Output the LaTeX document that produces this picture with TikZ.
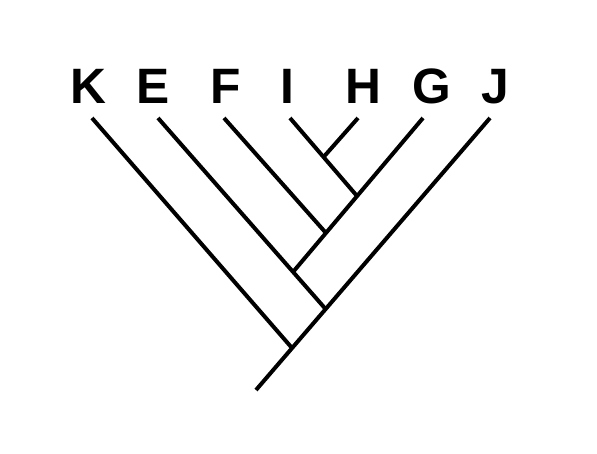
\documentclass[tikz,border=0pt]{standalone}
\usepackage{fontspec}
\setmainfont{Liberation Sans}
\usepackage{tikz}

\begin{document}
\begin{tikzpicture}[x=1pt,y=-1pt,
		branch/.style = {draw=black,line width=4pt},
		taxon/.style = {anchor=base,inner sep=0pt,font=\fontsize{49.7}{50}\selectfont\bfseries}]
		\useasboundingbox (0,0) rectangle (597,453);
		% tips
		\coordinate (tK) at (92,118);
		\coordinate (tE) at (158,118);
		\coordinate (tF) at (224,118);
		\coordinate (tI) at (290,118);
		\coordinate (tH) at (358,118);
		\coordinate (tG) at (423,118);
		\coordinate (tJ) at (490,118);
		% junctions
		\coordinate (root) at (256,390);
		\coordinate (nK) at (292,348);
		\coordinate (nE) at (325.6,309);
		\coordinate (nG) at (293,272);
		\coordinate (nF) at (326,233);
		\coordinate (nI) at (357,196);
		\coordinate (nH) at (323.6,157);
		% labels
		\node [taxon] (K) at (88,103.3) {K};
		\node [taxon] (E) at (153,103.3) {E};
		\node [taxon] (F) at (226,103.3) {F};
		\node [taxon] (I) at (287.5,103.3) {I};
		\node [taxon] (H) at (363,103.3) {H};
		\node [taxon] (G) at (432,103.3) {G};
		\node [taxon] (J) at (495,103.3) {J};
		% branches
		\draw [branch] (root) -- (tJ);
		\draw [branch] (tK) -- (nK);
		\draw [branch] (tE) -- (nE);
		\draw [branch] (tG) -- (nG);
		\draw [branch] (tF) -- (nF);
		\draw [branch] (tI) -- (nI);
		\draw [branch] (tH) -- (nH);
\end{tikzpicture}
\end{document}
